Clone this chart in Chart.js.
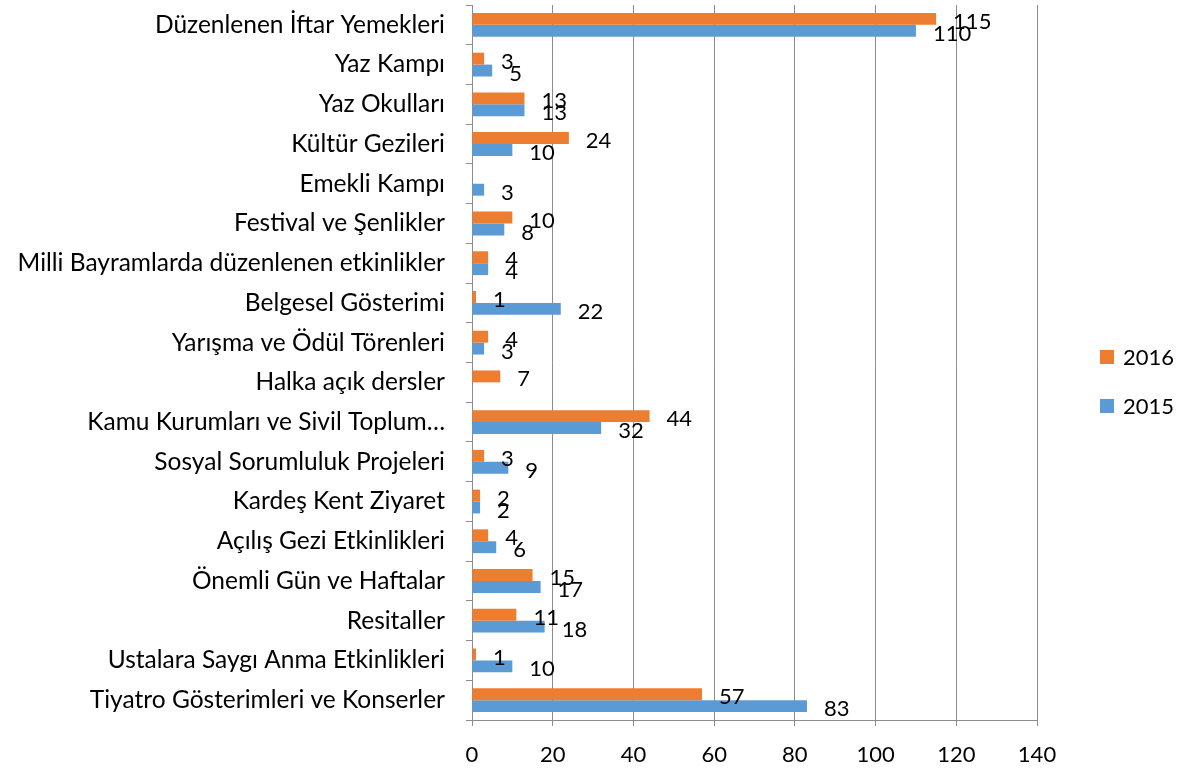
<!DOCTYPE html>
<html>
<head>
<meta charset="utf-8">
<script src="https://cdn.jsdelivr.net/npm/chart.js@4/dist/chart.umd.min.js"></script>
<style>
html,body{margin:0;padding:0;background:#fff;}
#wrap{width:1182px;height:778px;position:relative;}
</style>
</head>
<body>
<div id="wrap"><canvas id="c" width="1182" height="778"></canvas></div>
<script>
const categories = [
  "Düzenlenen İftar Yemekleri",
  "Yaz Kampı",
  "Yaz Okulları",
  "Kültür Gezileri",
  "Emekli Kampı",
  "Festival ve Şenlikler",
  "Milli Bayramlarda düzenlenen etkinlikler",
  "Belgesel Gösterimi",
  "Yarışma ve Ödül Törenleri",
  "Halka açık dersler",
  "Kamu Kurumları ve Sivil Toplum…",
  "Sosyal Sorumluluk Projeleri",
  "Kardeş Kent Ziyaret",
  "Açılış Gezi Etkinlikleri",
  "Önemli Gün ve Haftalar",
  "Resitaller",
  "Ustalara Saygı Anma Etkinlikleri",
  "Tiyatro Gösterimleri ve Konserler"
];
const values2016 = [115, 3, 13, 24, null, 10, 4, 1, 4, 7, 44, 3, 2, 4, 15, 11, 1, 57];
const values2015 = [110, 5, 13, 10, 3, 8, 4, 22, 3, null, 32, 9, 2, 6, 17, 18, 10, 83];
const seriesNames = ["2016", "2015"];
const xTicks = [0, 20, 40, 60, 80, 100, 120, 140];

const FONT = "Lato";
const ORANGE = "#ED7D31";
const BLUE = "#5B9BD5";
const GRID = "#8c8c8c";

const labelPlugin = {
  id: "valueLabels",
  afterDatasetsDraw(chart) {
    const ctx = chart.ctx;
    ctx.save();
    ctx.font = "22px " + FONT;
    ctx.fillStyle = "#000";
    ctx.textAlign = "left";
    ctx.textBaseline = "middle";
    chart.data.datasets.forEach((ds, di) => {
      const meta = chart.getDatasetMeta(di);
      meta.data.forEach((el, i) => {
        const v = ds.data[i];
        if (v === null || v === undefined) return;
        ctx.fillText(String(v), el.x + 17, el.y + 3);
      });
    });
    ctx.restore();
  }
};

const legendPlugin = {
  id: "customLegend",
  afterDraw(chart) {
    const ctx = chart.ctx;
    ctx.save();
    ctx.font = "22px " + FONT;
    ctx.textAlign = "left";
    ctx.textBaseline = "middle";
    const items = [{name: seriesNames[0], color: ORANGE, y: 357}, {name: seriesNames[1], color: BLUE, y: 406}];
    items.forEach(it => {
      ctx.fillStyle = it.color;
      ctx.fillRect(1100, it.y - 7, 14, 14);
      ctx.fillStyle = "#000";
      ctx.fillText(it.name, 1123, it.y + 1);
    });
    ctx.restore();
  }
};

new Chart(document.getElementById("c"), {
  type: "bar",
  data: {
    labels: categories,
    datasets: [
      {label: seriesNames[0], data: values2016, backgroundColor: ORANGE, categoryPercentage: 0.6, barPercentage: 1.0},
      {label: seriesNames[1], data: values2015, backgroundColor: BLUE, categoryPercentage: 0.6, barPercentage: 1.0}
    ]
  },
  options: {
    indexAxis: "y",
    responsive: false,
    animation: false,
    layout: {padding: {top: 5, right: 145, bottom: 0, left: 0}},
    plugins: {legend: {display: false}, tooltip: {enabled: false}},
    scales: {
      x: {
        min: 0, max: 140,
        afterBuildTicks(scale) { scale.ticks = xTicks.map(v => ({value: v})); },
        afterFit(scale) { scale.height = 58; },
        grid: {color: GRID, lineWidth: 1, drawTicks: true, tickLength: 6, tickColor: GRID},
        border: {color: GRID, width: 1},
        ticks: {font: {family: FONT, size: 22}, color: "#000", padding: 16}
      },
      y: {
        afterFit(scale) { scale.width = 472; scale.paddingTop = 0; scale.paddingBottom = 0; },
        grid: {drawOnChartArea: false, drawTicks: true, tickLength: 6, tickColor: GRID, offset: true},
        border: {color: GRID, width: 1},
        ticks: {font: {family: FONT, size: 24.5}, color: "#000", padding: 21, autoSkip: false}
      }
    }
  },
  plugins: [labelPlugin, legendPlugin]
});
</script>
</body>
</html>
